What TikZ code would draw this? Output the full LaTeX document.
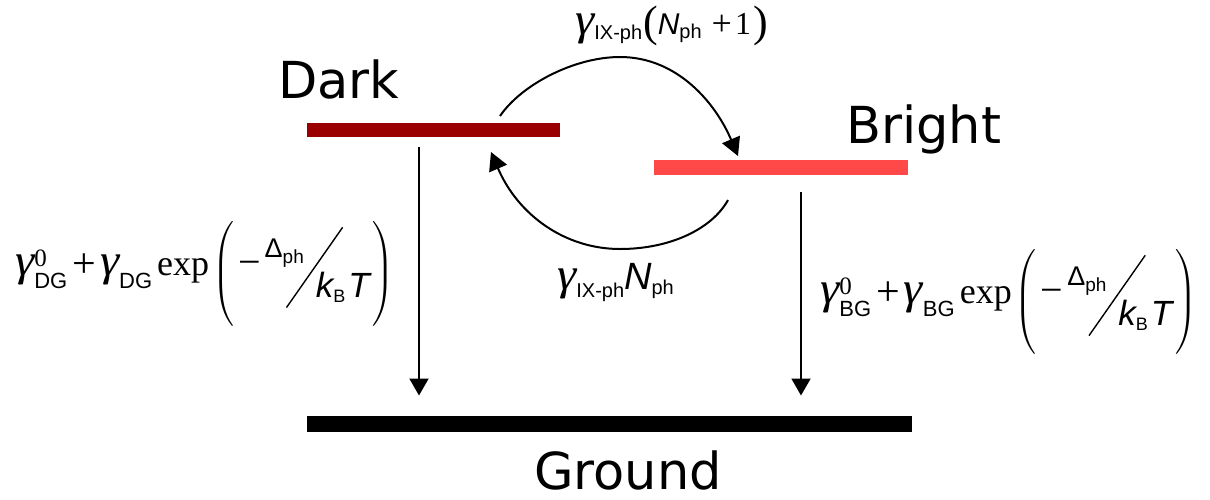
\documentclass[tikz,border=0pt]{standalone}
\usepackage{fontspec}
\usepackage{exscale}
\usepackage{graphicx}
\usetikzlibrary{arrows.meta,calc}
\newfontfamily\tms{Liberation Serif}
\newfontfamily\arl{Liberation Sans}
\newfontfamily\djv{DejaVu Sans}
\newcommand\fsz[1]{\fontsize{#1}{#1}\selectfont}
\newcommand\gm{\scalebox{1.08}[1.0]{\tms\itshape\fsz{45}γ}}
\newcommand\lo[3]{\raisebox{-#1pt}{\arl\fsz{#2}#3}}
\newcommand\lparen{\raisebox{-5pt}{\fsz{30}$\left(\vrule height 42pt depth 42pt width 0pt\right.$}}
\newcommand\rparen{\raisebox{-5pt}{\fsz{30}$\left.\vrule height 42pt depth 42pt width 0pt\right)$}}
\newcommand\rateform[1]{%
 \gm\rlap{\raisebox{9pt}{\tms\fsz{25}0}}\lo{13}{22}{#1}%
 \hspace{5pt}\raisebox{-2pt}{\tms\fsz{42}+}\hspace{4pt}%
 \gm\lo{13}{22}{#1}\hspace{5pt}{\tms\fsz{36}exp}%
 \hspace{3pt}\lparen
 \hspace{3pt}{\tms\fsz{40}−}\hspace{4pt}%
 \raisebox{18pt}{\arl\fsz{27}Δ}\raisebox{12pt}{\arl\fsz{19}ph}%
 \rlap{\kern-18pt\raisebox{-33pt}{\rotatebox{55}{\rule{98pt}{1.4pt}}}}%
 \hspace{12pt}\lo{22}{35}{\itshape k}\lo{27}{18}{B}\hspace{3pt}\lo{22}{35}{\itshape T}%
 \hspace{2pt}\rparen}
\definecolor{darkbarc}{RGB}{155,0,0}
\definecolor{brightbarc}{RGB}{255,72,72}
\tikzset{
  bar/.style={draw=none, inner sep=0, outer sep=0},
  level/.style={anchor=base west, inner sep=0, text depth=0pt, font=\djv\fsz{51}},
  lbl/.style={anchor=base west, inner sep=0},
  varrow/.style={line width=2pt, -{Triangle[length=17pt,width=19pt]}},
  carrow/.style={line width=2pt, -{Triangle[length=18pt,width=19pt]}},
}
\begin{document}
\begin{tikzpicture}[x=1pt,y=-1pt]
\useasboundingbox (0,0) rectangle (1210,499);
% bars
\node[bar, fill=darkbarc, minimum width=253pt, minimum height=14pt] (darkbar) at (433.5,130) {};
\node[bar, fill=brightbarc, minimum width=254pt, minimum height=15pt] (brightbar) at (781,167.5) {};
\node[bar, fill=black, minimum width=605pt, minimum height=16pt] (ground) at (609.5,423.5) {};
% level names
\node[level] (darklbl) at (278,98) {Dark};
\node[level] (brightlbl) at (846,143) {Bright};
\node[level] (groundlbl) at (534,489) {Ground};
% vertical decay arrows
\coordinate (dstart) at ([xshift=-14.5pt,yshift=-10pt]darkbar.south);
\coordinate (bstart) at ([xshift=20pt,yshift=-17pt]brightbar.south);
\coordinate (gtop) at ([yshift=20pt]ground.north);
\draw[varrow] (dstart) -- (dstart |- gtop);
\draw[varrow] (bstart) -- (bstart |- gtop);
% curved phonon arrows
\coordinate (t1) at (500,116);
\coordinate (tm) at (620,57);
\coordinate (t2) at (738,156);
\coordinate (b1) at (728,200);
\coordinate (bm) at (620,249);
\coordinate (b2) at (491,152);
\draw[carrow] (t1) .. controls (522,84) and (575,57) .. (tm) .. controls (678,57) and (716,104) .. (t2);
\draw[carrow] (b1) .. controls (712,229) and (670,249) .. (bm) .. controls (565,249) and (518,215) .. (b2);
% rate labels
\node[lbl] (uplbl) at (575,34) {\gm\lo{5}{20}{IX-ph}\hspace{1pt}\raisebox{-2pt}{\tms\fsz{44}(}{\arl\itshape\fsz{30}N}\lo{4}{20}{ph}\hspace{10pt}\raisebox{-1pt}{\tms\fsz{36}+}\hspace{3pt}{\tms\fsz{32}1}\hspace{2pt}\raisebox{-2pt}{\tms\fsz{44})}};
\node[lbl] (downlbl) at (557,289) {\gm\lo{8}{20}{IX-ph}{\arl\itshape\fsz{38}N}\lo{5}{20}{ph}};
\node[lbl] (dgrate) at (15,275) {\rateform{DG}};
\node[lbl] (bgrate) at (820,303) {\rateform{BG}};
\end{tikzpicture}
\end{document}
